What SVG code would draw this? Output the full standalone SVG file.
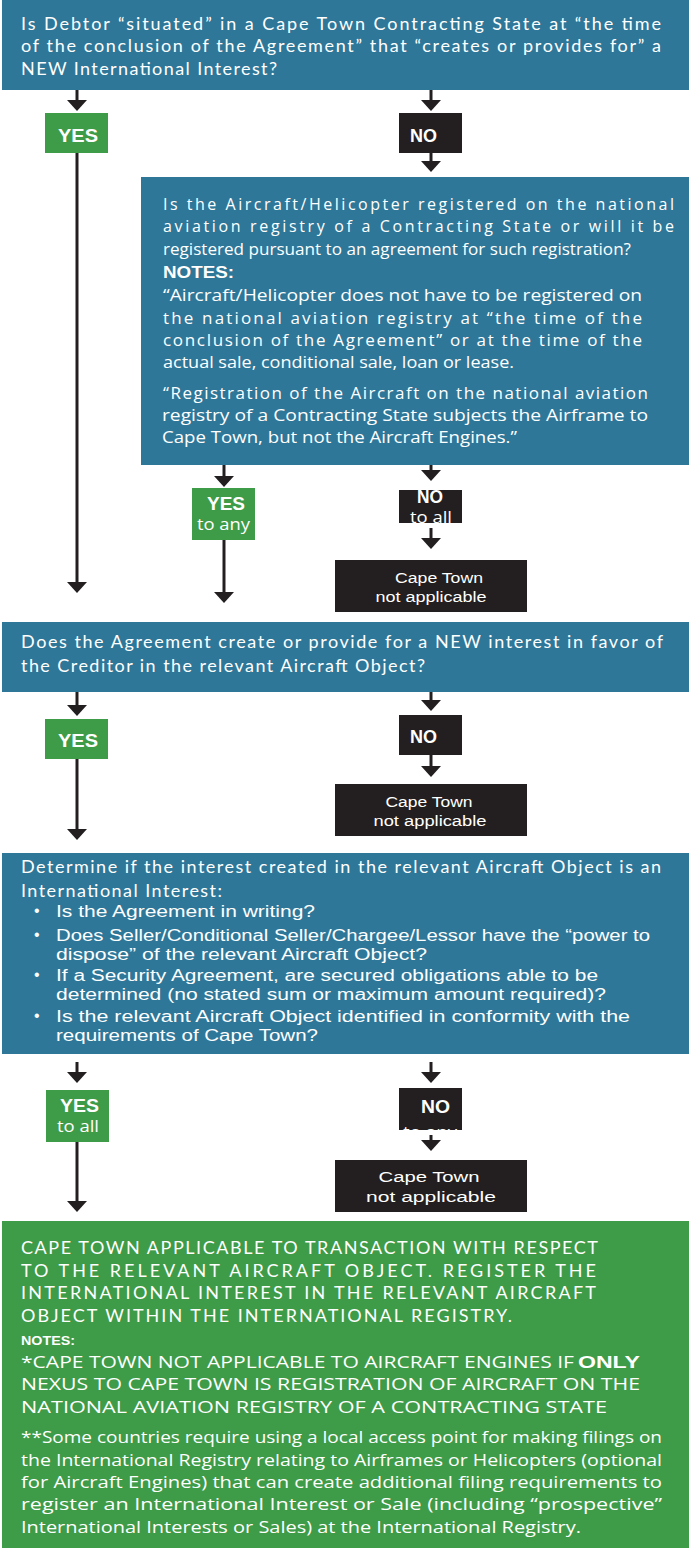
<svg xmlns="http://www.w3.org/2000/svg" width="689" height="1549" viewBox="0 0 689 1549">
<style>
.blue{fill:#2e7799}
.green{fill:#3e9b47}
.dark{fill:#231f20}
text{fill:#ffffff}
.cal{font-family:Lato,"Liberation Sans",sans-serif;font-size:18px}
.goth{font-family:"Open Sans","Liberation Sans",sans-serif;font-size:16px}
.gl{font-family:"Open Sans","Liberation Sans",sans-serif;font-size:17px}
.bl{font-family:"Liberation Sans",Arial,sans-serif;font-size:16px}
.lbl{font-family:"Liberation Sans",Arial,sans-serif;font-size:18px;font-weight:bold}
.sub{font-family:"Open Sans","Liberation Sans",sans-serif;font-size:16px}
.ct{font-family:"Liberation Sans",Arial,sans-serif;font-size:15.5px;text-anchor:middle}
.notes{font-family:"Liberation Sans",Arial,sans-serif;font-weight:bold}
.conn line{stroke:#231f20;stroke-width:3;fill:none;marker-end:url(#arr)}
</style>
<defs>
<marker id="arr" viewBox="0 0 11 20" refX="0" refY="10" markerWidth="11" markerHeight="20" markerUnits="userSpaceOnUse" orient="auto">
<path d="M0,0 L11,10 L0,20 z" fill="#231f20"/>
</marker>
<clipPath id="clipNo2"><rect x="399" y="490" width="63" height="33"/></clipPath>
<clipPath id="clipNo4"><rect x="399" y="1088" width="63" height="42"/></clipPath>
</defs>

<g id="q1">
<rect class="blue" x="2" y="0" width="687" height="90"/>
<text class="cal" x="21" y="30" textLength="640" lengthAdjust="spacing">Is Debtor “situated” in a Cape Town Contracting State at “the time</text>
<text class="cal" x="21" y="52" textLength="640" lengthAdjust="spacing">of the conclusion of the Agreement” that “creates or provides for” a</text>
<text class="cal" x="21" y="75" textLength="256" lengthAdjust="spacing">NEW International Interest?</text>
</g>

<g id="yes1">
<rect class="green" x="45" y="113" width="63" height="40"/>
<text class="lbl" x="58" y="142" textLength="40" lengthAdjust="spacingAndGlyphs">YES</text>
</g>

<g id="no1">
<rect class="dark" x="399" y="113" width="63" height="40"/>
<text class="lbl" x="410" y="142" textLength="27" lengthAdjust="spacingAndGlyphs">NO</text>
</g>

<g id="q2">
<rect class="blue" x="141" y="177" width="548" height="288"/>
<text class="goth" x="163" y="210" textLength="511" lengthAdjust="spacing">Is the Aircraft/Helicopter registered on the national</text>
<text class="goth" x="163" y="232" textLength="511" lengthAdjust="spacing">aviation registry of a Contracting State or will it be</text>
<text class="goth" x="163" y="255" textLength="468" lengthAdjust="spacingAndGlyphs">registered pursuant to an agreement for such registration?</text>
<text class="notes" x="163" y="278" font-size="16" textLength="71" lengthAdjust="spacingAndGlyphs">NOTES:</text>
<text class="gl" x="163" y="301" textLength="479" lengthAdjust="spacingAndGlyphs">“Aircraft/Helicopter does not have to be registered  on</text>
<text class="gl" x="163" y="324" textLength="479" lengthAdjust="spacing">the national aviation registry at “the time of the</text>
<text class="gl" x="163" y="346" textLength="479" lengthAdjust="spacing">conclusion of the Agreement” or at the time of the</text>
<text class="gl" x="163" y="368" textLength="351" lengthAdjust="spacingAndGlyphs">actual sale, conditional sale, loan or lease.</text>
<text class="gl" x="163" y="399" textLength="485" lengthAdjust="spacing">“Registration of the Aircraft on the national aviation</text>
<text class="gl" x="162" y="421" textLength="486" lengthAdjust="spacingAndGlyphs">registry of a Contracting State subjects the Airframe  to</text>
<text class="gl" x="162" y="443" textLength="355" lengthAdjust="spacingAndGlyphs">Cape Town, but not the Aircraft Engines.”</text>
</g>

<g id="yes2">
<rect class="green" x="192" y="488" width="63" height="52"/>
<text class="lbl" x="207" y="510" textLength="38" lengthAdjust="spacingAndGlyphs">YES</text>
<text class="sub" x="197" y="530" textLength="53" lengthAdjust="spacingAndGlyphs">to any</text>
</g>

<g id="no2">
<rect class="dark" x="399" y="490" width="63" height="33"/>
<g clip-path="url(#clipNo2)">
<text class="lbl" x="417" y="503" textLength="26" lengthAdjust="spacingAndGlyphs">NO</text>
<text class="sub" x="410" y="523" textLength="42" lengthAdjust="spacingAndGlyphs">to all</text>
</g>
</g>

<g id="na1">
<rect class="dark" x="335" y="560" width="192" height="52"/>
<text class="ct" x="439" y="583" textLength="88" lengthAdjust="spacingAndGlyphs">Cape Town</text>
<text class="ct" x="431" y="602" textLength="111" lengthAdjust="spacingAndGlyphs">not applicable</text>
</g>

<g id="q3">
<rect class="blue" x="2" y="622" width="687" height="70"/>
<text class="cal" x="21" y="648" textLength="642" lengthAdjust="spacing">Does the Agreement create or provide for a NEW interest in favor of</text>
<text class="cal" x="21" y="672" textLength="404" lengthAdjust="spacing">the Creditor in the relevant Aircraft Object?</text>
</g>

<g id="yes3">
<rect class="green" x="45" y="719" width="63" height="40"/>
<text class="lbl" x="58" y="747" textLength="40" lengthAdjust="spacingAndGlyphs">YES</text>
</g>

<g id="no3">
<rect class="dark" x="399" y="715" width="63" height="40"/>
<text class="lbl" x="410" y="743" textLength="27" lengthAdjust="spacingAndGlyphs">NO</text>
</g>

<g id="na2">
<rect class="dark" x="335" y="784" width="192" height="52"/>
<text class="ct" x="429" y="807" textLength="87" lengthAdjust="spacingAndGlyphs">Cape Town</text>
<text class="ct" x="430" y="826" textLength="113" lengthAdjust="spacingAndGlyphs">not applicable</text>
</g>

<g id="q4">
<rect class="blue" x="2" y="853" width="687" height="201"/>
<text class="cal" x="21" y="873" textLength="640" lengthAdjust="spacing">Determine if the interest created in the relevant Aircraft Object is an</text>
<text class="cal" x="21" y="897" textLength="201" lengthAdjust="spacing">International Interest:</text>
<text class="bl" x="34" y="916" font-size="13">•</text>
<text class="bl" x="56" y="917" textLength="259" lengthAdjust="spacingAndGlyphs">Is the Agreement in writing?</text>
<text class="bl" x="34" y="940" font-size="13">•</text>
<text class="bl" x="56" y="941" textLength="594" lengthAdjust="spacingAndGlyphs">Does Seller/Conditional Seller/Chargee/Lessor have the “power to</text>
<text class="bl" x="56" y="960" textLength="371" lengthAdjust="spacingAndGlyphs">dispose” of the relevant Aircraft Object?</text>
<text class="bl" x="34" y="980" font-size="13">•</text>
<text class="bl" x="56" y="981" textLength="542" lengthAdjust="spacingAndGlyphs">If a Security Agreement, are secured obligations able to be</text>
<text class="bl" x="56" y="1000" textLength="550" lengthAdjust="spacingAndGlyphs">determined (no stated sum or maximum amount required)?</text>
<text class="bl" x="34" y="1021" font-size="13">•</text>
<text class="bl" x="56" y="1022" textLength="574" lengthAdjust="spacingAndGlyphs">Is the relevant Aircraft Object identified in conformity with the</text>
<text class="bl" x="56" y="1041" textLength="262" lengthAdjust="spacingAndGlyphs">requirements of Cape Town?</text>
</g>

<g id="yes4">
<rect class="green" x="46" y="1090" width="63" height="52"/>
<text class="lbl" x="60" y="1112" textLength="39" lengthAdjust="spacingAndGlyphs">YES</text>
<text class="sub" x="57" y="1132" textLength="42" lengthAdjust="spacingAndGlyphs">to all</text>
</g>

<g id="no4">
<rect class="dark" x="399" y="1088" width="63" height="42"/>
<g clip-path="url(#clipNo4)">
<text class="lbl" x="421" y="1113" textLength="29" lengthAdjust="spacingAndGlyphs">NO</text>
<text class="sub" x="403" y="1138" textLength="54" lengthAdjust="spacingAndGlyphs">to any</text>
</g>
</g>

<g id="na3">
<rect class="dark" x="335" y="1160" width="192" height="52"/>
<text class="ct" x="429" y="1182" font-size="17" textLength="101" lengthAdjust="spacingAndGlyphs">Cape Town</text>
<text class="ct" x="431" y="1202" font-size="17" textLength="130" lengthAdjust="spacingAndGlyphs">not applicable</text>
</g>

<g id="result">
<rect class="green" x="2" y="1221" width="687" height="327"/>
<text class="cal" x="21" y="1254" textLength="577" lengthAdjust="spacing">CAPE TOWN APPLICABLE TO TRANSACTION WITH RESPECT</text>
<text class="cal" x="21" y="1277" textLength="575" lengthAdjust="spacing">TO THE RELEVANT AIRCRAFT OBJECT. REGISTER THE</text>
<text class="cal" x="21" y="1299" textLength="575" lengthAdjust="spacing">INTERNATIONAL INTEREST IN THE RELEVANT AIRCRAFT</text>
<text class="cal" x="21" y="1322" textLength="491" lengthAdjust="spacing">OBJECT WITHIN THE INTERNATIONAL REGISTRY.</text>
<text class="notes" x="21" y="1345" font-size="12" textLength="54" lengthAdjust="spacingAndGlyphs">NOTES:</text>
<text class="gl" x="21" y="1368" textLength="553" lengthAdjust="spacingAndGlyphs">*CAPE TOWN NOT APPLICABLE TO AIRCRAFT ENGINES IF</text>
<text class="notes" x="578" y="1368" font-size="17" textLength="62" lengthAdjust="spacingAndGlyphs">ONLY</text>
<text class="gl" x="21" y="1390" textLength="619" lengthAdjust="spacingAndGlyphs">NEXUS TO CAPE TOWN IS REGISTRATION OF AIRCRAFT ON THE</text>
<text class="gl" x="21" y="1413" textLength="586" lengthAdjust="spacingAndGlyphs">NATIONAL AVIATION REGISTRY OF A CONTRACTING STATE</text>
<text class="gl" x="21" y="1443" textLength="641" lengthAdjust="spacingAndGlyphs">**Some countries require using a local access point for making filings on</text>
<text class="gl" x="21" y="1466" textLength="641" lengthAdjust="spacingAndGlyphs">the International Registry relating to Airframes or Helicopters (optional</text>
<text class="gl" x="21" y="1488" textLength="641" lengthAdjust="spacingAndGlyphs">for Aircraft Engines) that can create additional filing requirements  to</text>
<text class="gl" x="21" y="1510" textLength="641" lengthAdjust="spacingAndGlyphs">register an International Interest or Sale (including “prospective”</text>
<text class="gl" x="21" y="1533" textLength="560" lengthAdjust="spacingAndGlyphs">International Interests or Sales) at the International Registry.</text>
</g>

<g id="connectors" class="conn">
<line x1="77" y1="90" x2="77" y2="100"/>
<line x1="431" y1="90" x2="431" y2="100"/>
<line x1="77" y1="153" x2="77" y2="582"/>
<line x1="431" y1="153" x2="431" y2="161"/>
<line x1="224" y1="465" x2="224" y2="476"/>
<line x1="431" y1="465" x2="431" y2="470"/>
<line x1="224" y1="540" x2="224" y2="592"/>
<line x1="431" y1="528" x2="431" y2="538"/>
<line x1="77" y1="692" x2="77" y2="705"/>
<line x1="431" y1="692" x2="431" y2="700"/>
<line x1="77" y1="759" x2="77" y2="829"/>
<line x1="431" y1="755" x2="431" y2="766"/>
<line x1="77" y1="1062" x2="77" y2="1072"/>
<line x1="431" y1="1062" x2="431" y2="1072"/>
<line x1="77" y1="1142" x2="77" y2="1201"/>
<line x1="431" y1="1135" x2="431" y2="1140"/>
</g>
</svg>
